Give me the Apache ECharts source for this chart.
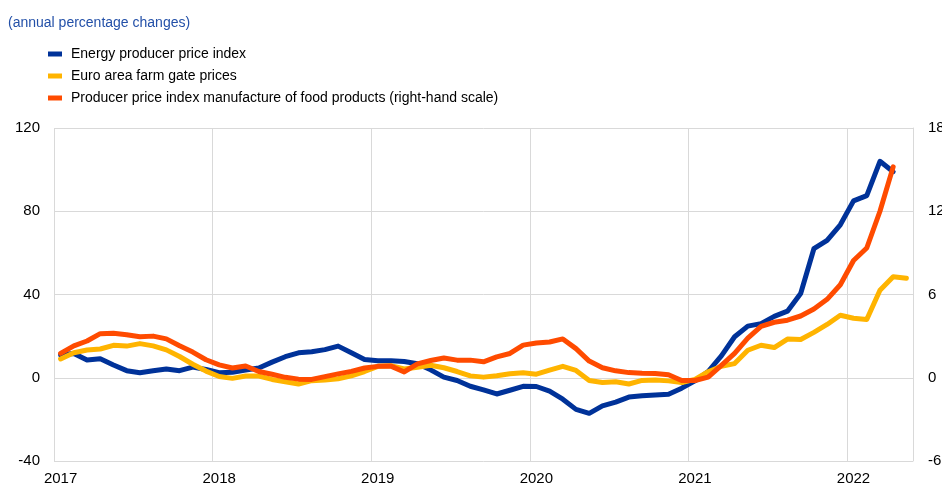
<!DOCTYPE html>
<html>
<head>
<meta charset="utf-8">
<script src="https://cdn.jsdelivr.net/npm/echarts@6/dist/echarts.min.js"></script>
<style>
html,body{margin:0;padding:0;background:#fff;}
#chart{width:942px;height:486px;}
</style>
</head>
<body>
<div id="chart"></div>
<script>
var titleText = '(annual percentage changes)';
var seriesNames = ['Energy producer price index', 'Euro area farm gate prices', 'Producer price index manufacture of food products (right-hand scale)'];

var months = [
'2017-01','2017-02','2017-03','2017-04','2017-05','2017-06','2017-07','2017-08','2017-09','2017-10','2017-11','2017-12',
'2018-01','2018-02','2018-03','2018-04','2018-05','2018-06','2018-07','2018-08','2018-09','2018-10','2018-11','2018-12',
'2019-01','2019-02','2019-03','2019-04','2019-05','2019-06','2019-07','2019-08','2019-09','2019-10','2019-11','2019-12',
'2020-01','2020-02','2020-03','2020-04','2020-05','2020-06','2020-07','2020-08','2020-09','2020-10','2020-11','2020-12',
'2021-01','2021-02','2021-03','2021-04','2021-05','2021-06','2021-07','2021-08','2021-09','2021-10','2021-11','2021-12',
'2022-01','2022-02','2022-03','2022-04','2022-05'
];

var energyPPI = [11, 11.7, 8.5, 9.1, 6.1, 3.4, 2.4, 3.4, 4.2, 3.4, 5.1, 4.0,
  2.4, 2.6, 3.7, 4.7, 7.5, 10.1, 12.0, 12.5, 13.5, 15.2, 12.0, 8.8,
  8.2, 8.2, 7.8, 6.7, 3.8, 0.3, -1.3, -4.1, -5.8, -7.8, -6.0, -4.1,
  -4.2, -6.4, -10.3, -15.2, -17.1, -13.5, -11.7, -9.3, -8.7, -8.3, -7.9, -5.0,
  -1.5, 3, 10.5, 19.7, 24.8, 26, 29.5, 32, 40.5, 62, 66, 73.5,
  85, 87.5, 104, 99];

var farmGate = [9, 12, 13.3, 13.8, 15.6, 15.2, 16.4, 15.3, 13.4, 10.2, 6.5, 3.2,
  0.6, -0.3, 0.8, 0.8, -0.8, -1.9, -3.0, -1.4, -1.1, -0.5, 0.9, 3.0,
  5.5, 5.8, 4.2, 5.0, 6.0, 4.8, 3.0, 0.9, 0.3, 1.0, 1.9, 2.4,
  1.7, 3.7, 5.5, 3.5, -1.3, -2.3, -1.9, -3.0, -1.3, -1.1, -1.5, -2.3,
  -0.8, 2.9, 5.5, 6.8, 13.2, 15.6, 14.5, 18.6, 18.4, 21.8, 25.6, 30.0,
  28.6, 28.0, 42.0, 48.5, 47.8];

var foodPPI = [1.76, 2.3, 2.65, 3.18, 3.2, 3.1, 2.95, 3.0, 2.8, 2.3, 1.85, 1.3,
  0.93, 0.7, 0.85, 0.45, 0.25, 0.03, -0.1, -0.12, 0.08, 0.28, 0.46, 0.7,
  0.82, 0.84, 0.42, 1.0, 1.24, 1.42, 1.27, 1.27, 1.15, 1.5, 1.75, 2.35,
  2.5, 2.58, 2.8, 2.1, 1.2, 0.72, 0.5, 0.37, 0.32, 0.3, 0.22, -0.2,
  -0.2, 0.05, 0.9, 1.76, 2.85, 3.7, 4.0, 4.15, 4.45, 4.95, 5.65, 6.7,
  8.45, 9.35, 12.0, 15.2];

var leftTicks = {min: -40, max: 120, interval: 40};
var rightTicks = {min: -6, max: 18, interval: 6};

var FONT = '"Liberation Sans", Arial, sans-serif';
var GRID_COLOR = '#d9d9d9';
var colors = ['#003299', '#ffb400', '#ff4b00'];

var chart = echarts.init(document.getElementById('chart'), null, {renderer: 'canvas'});

function lineSeries(name, data, yIdx, color) {
  return {
    name: name, type: 'line', data: data, yAxisIndex: yIdx,
    symbol: 'none', smooth: false,
    lineStyle: {color: color, width: 5, cap: 'round', join: 'round'},
    itemStyle: {color: color},
    emphasis: {disabled: true}
  };
}

chart.setOption({
  animation: false,
  backgroundColor: '#fff',
  color: colors,
  title: {
    text: titleText, left: 8, top: 16, padding: 0,
    textStyle: {fontFamily: FONT, fontSize: 14, fontWeight: 'normal', color: '#2350a8'}
  },
  legend: {
    orient: 'vertical', left: 48, top: 46, padding: 0,
    itemWidth: 14, itemHeight: 5, itemGap: 6,
    icon: 'rect',
    textStyle: {fontFamily: FONT, fontSize: 14, color: '#000', lineHeight: 16, padding: [0,0,0,4]},
    data: seriesNames
  },
  grid: {left: 54, right: 29, top: 128, bottom: 25, containLabel: false, outerBoundsMode: 'none'},
  xAxis: {
    type: 'category', data: months, boundaryGap: true,
    axisLine: {show: false},
    axisTick: {show: false},
    splitLine: {show: true, interval: function (i) { return i % 12 === 0; }, lineStyle: {color: GRID_COLOR, width: 1}},
    axisLabel: {
      interval: function (i) { return i % 12 === 0; },
      formatter: function (v) { return v.slice(0, 4); },
      fontFamily: FONT, fontSize: 15, color: '#000', margin: 10
    }
  },
  yAxis: [
    {
      type: 'value', min: leftTicks.min, max: leftTicks.max, interval: leftTicks.interval,
      axisLine: {show: false}, axisTick: {show: false},
      splitLine: {show: true, lineStyle: {color: GRID_COLOR, width: 1}},
      axisLabel: {fontFamily: FONT, fontSize: 15, color: '#000', margin: 14}
    },
    {
      type: 'value', position: 'right', min: rightTicks.min, max: rightTicks.max, interval: rightTicks.interval,
      axisLine: {show: true, lineStyle: {color: GRID_COLOR, width: 1}}, axisTick: {show: false},
      splitLine: {show: false},
      axisLabel: {fontFamily: FONT, fontSize: 15, color: '#000', margin: 15}
    }
  ],
  series: [
    lineSeries(seriesNames[0], energyPPI, 0, colors[0]),
    lineSeries(seriesNames[1], farmGate, 0, colors[1]),
    lineSeries(seriesNames[2], foodPPI, 1, colors[2])
  ]
});
</script>
</body>
</html>
